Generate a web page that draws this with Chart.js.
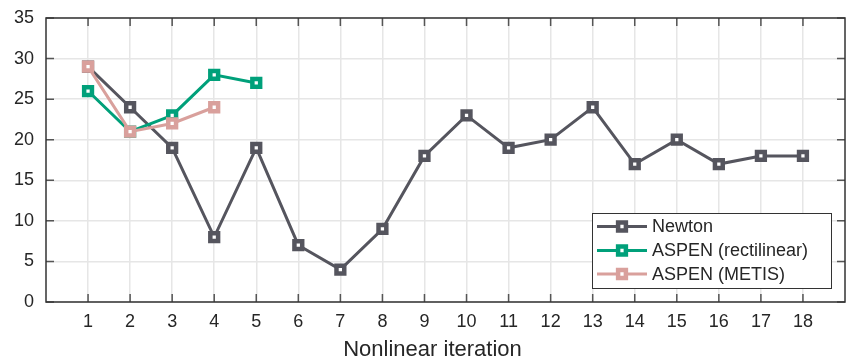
<!DOCTYPE html>
<html>
<head>
<meta charset="utf-8">
<script src="https://cdn.jsdelivr.net/npm/chart.js@4.4.1/dist/chart.umd.min.js"></script>
<style>
  html, body { margin: 0; padding: 0; background: #fff; }
  canvas { display: block; }
</style>
</head>
<body>
<canvas id="iterChart" width="846" height="360"></canvas>
<script>
// iteraciones no lineales
const iterations = [1, 2, 3, 4, 5, 6, 7, 8, 9, 10, 11, 12, 13, 14, 15, 16, 17, 18];
const newtonVals = [29, 24, 19, 8, 19, 7, 4, 9, 18, 23, 19, 20, 24, 17, 20, 17, 18, 18];
const aspenRectVals = [26, 21, 23, 28, 27];
const aspenMetisVals = [29, 21, 22, 24];
const yTicks = [0, 5, 10, 15, 20, 25, 30, 35];
const xTitle = "Nonlinear iteration";

const FONT = "'Liberation Sans', Arial, Helvetica, sans-serif";
const TXT = "#262626";

function toPoints(vals) {
  return vals.map((v, i) => ({ x: iterations[i], y: v }));
}

function series(label, vals, color, order) {
  return {
    label: label,
    data: toPoints(vals),
    borderColor: color,
    backgroundColor: "#ffffff",
    borderWidth: 3,
    pointStyle: "rect",
    pointRadius: 5.5,
    pointBorderWidth: 4.5,
    pointBorderColor: color,
    pointBackgroundColor: "#ffffff",
    tension: 0,
    order: order
  };
}

// sin relleno automático de los ejes: el área la fijan layout.padding y afterFit
function noPad(s) {
  s.paddingLeft = 0; s.paddingRight = 0; s.paddingTop = 0; s.paddingBottom = 0;
}

/** Marco tipo caja con marcas hacia dentro en los cuatro lados */
const framePlugin = {
  id: "frame",
  beforeDatasetsDraw(chart) {
    const { ctx, chartArea: a, scales } = chart;
    ctx.save();
    ctx.strokeStyle = "#555";
    ctx.lineWidth = 1.5;
    const tl = 8;
    ctx.beginPath();
    iterations.forEach(v => {
      const px = scales.x.getPixelForValue(v);
      ctx.moveTo(px, a.bottom); ctx.lineTo(px, a.bottom - tl);
      ctx.moveTo(px, a.top); ctx.lineTo(px, a.top + tl);
    });
    yTicks.forEach(v => {
      const py = scales.y.getPixelForValue(v);
      ctx.moveTo(a.left, py); ctx.lineTo(a.left + tl, py);
      ctx.moveTo(a.right, py); ctx.lineTo(a.right - tl, py);
    });
    ctx.stroke();
    ctx.strokeStyle = "#333";
    ctx.strokeRect(a.left, a.top, a.right - a.left, a.bottom - a.top);
    ctx.restore();
  }
};

/** Título del eje x, un poco a la izquierda del centro */
const xTitlePlugin = {
  id: "xTitle",
  afterDraw(chart) {
    const { ctx, chartArea: a } = chart;
    ctx.save();
    ctx.fillStyle = TXT;
    ctx.font = "22px " + FONT;
    ctx.textAlign = "center";
    ctx.textBaseline = "middle";
    ctx.fillText(xTitle, (a.left + a.right) / 2 - 13, 350);
    ctx.restore();
  }
};

/** Leyenda dentro del área, abajo a la derecha, con línea + marcador */
const boxLegend = {
  id: "boxLegend",
  afterDraw(chart) {
    const { ctx, chartArea: a } = chart;
    const w = 239, h = 75;
    const left = a.right - 14 - w;
    const top = a.bottom - 14 - h;
    ctx.save();
    ctx.fillStyle = "#fff";
    ctx.fillRect(left, top, w, h);
    ctx.strokeStyle = "#333";
    ctx.lineWidth = 1;
    ctx.strokeRect(left + 0.5, top + 0.5, w, h);
    const ds = chart.data.datasets;
    const rowY = [13.5, 37.5, 61];
    ds.forEach((d, i) => {
      const y = top + rowY[i];
      ctx.strokeStyle = d.borderColor;
      ctx.lineWidth = 3;
      ctx.beginPath();
      ctx.moveTo(left + 5, y);
      ctx.lineTo(left + 55, y);
      ctx.stroke();
      Chart.helpers.drawPoint(ctx, {
        pointStyle: "rect", radius: 5.5, borderWidth: 4.5
      }, left + 30, y);
      ctx.fillStyle = "#fff";
      ctx.lineWidth = 4.5;
      ctx.fill();
      ctx.stroke();
      ctx.fillStyle = TXT;
      ctx.font = "18px " + FONT;
      ctx.textBaseline = "middle";
      ctx.textAlign = "left";
      ctx.fillText(d.label, left + 60, y + 1);
    });
    ctx.restore();
  }
};

const chart = new Chart(document.getElementById("iterChart").getContext("2d"), {
  type: "line",
  data: {
    datasets: [
      series("Newton", newtonVals, "#55555e", 3),
      series("ASPEN (rectilinear)", aspenRectVals, "#00a07a", 2),
      series("ASPEN (METIS)", aspenMetisVals, "#d9a09c", 1)
    ]
  },
  options: {
    responsive: false,
    devicePixelRatio: 1,
    animation: false,
    layout: { autoPadding: false, padding: { top: 18, right: 1, left: 0, bottom: 0 } },
    plugins: { legend: { display: false }, tooltip: { enabled: false } },
    scales: {
      x: {
        type: "linear",
        min: 0,
        max: 19,
        afterFit: s => { s.height = 58; noPad(s); },
        afterBuildTicks: s => { s.ticks = iterations.map(v => ({ value: v })); },
        grid: { color: "#e6e6e6", lineWidth: 1.5, drawTicks: false },
        border: { display: false },
        ticks: { color: TXT, font: { family: FONT, size: 18 }, padding: 9, maxRotation: 0, autoSkip: false }
      },
      y: {
        min: 0,
        max: 35,
        afterFit: s => { s.width = 46; noPad(s); },
        afterBuildTicks: s => { s.ticks = yTicks.map(v => ({ value: v })); },
        grid: { color: "#e6e6e6", lineWidth: 1.5, drawTicks: false },
        border: { display: false },
        ticks: { color: TXT, font: { family: FONT, size: 18 }, padding: 12 }
      }
    }
  },
  plugins: [framePlugin, xTitlePlugin, boxLegend]
});
</script>
</body>
</html>
